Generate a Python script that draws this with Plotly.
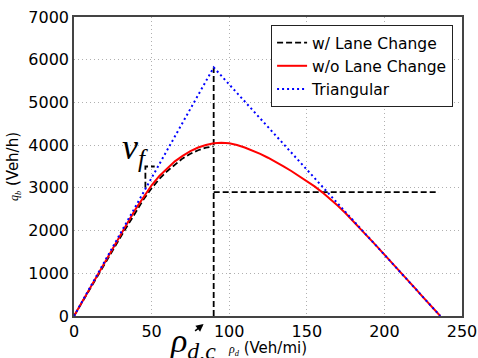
import plotly.graph_objects as go

# ---- data ----
x_lane = [0, 10, 20, 30, 40, 45, 50, 55, 60, 65, 70, 75, 80, 85, 90]
y_lane = [0, 600, 1230, 1850, 2450, 2740, 2990, 3210, 3390, 3550, 3690, 3800, 3880, 3940, 3970]
x_lane_vert = [90, 90]
y_lane_vert = [0, 5820]
x_lane_horiz = [90, 235]
y_lane_horiz = [2900, 2900]
x_vf_mark = [46, 46, 52]
y_vf_mark = [3000, 3500, 3500]

x_nolane = [0, 5, 10, 15, 20, 25, 30, 35, 40, 45, 50, 55, 60, 65, 70, 75, 80, 85,
            90, 95, 100, 105, 110, 115, 120, 125, 130, 135, 140, 145, 150, 155,
            160, 165, 170, 175, 180, 185, 190, 195, 200, 205, 210, 215, 220, 225,
            230, 236]
y_nolane = [0, 320, 640, 960, 1280, 1595, 1910, 2215, 2520, 2800, 3060, 3280,
            3460, 3620, 3750, 3860, 3945, 4005, 4045, 4058, 4045, 4005, 3945,
            3875, 3795, 3705, 3610, 3505, 3395, 3280, 3165, 3035, 2895, 2745,
            2580, 2405, 2220, 2025, 1830, 1635, 1440, 1240, 1040, 840, 640, 435,
            230, 0]

x_tri = [0, 90, 236]
y_tri = [0, 5820, 0]

x_ticks = [0, 50, 100, 150, 200, 250]
y_ticks = [0, 1000, 2000, 3000, 4000, 5000, 6000, 7000]

FONT = "DejaVu Sans"
SERIF = "Liberation Serif"

fig = go.Figure()

xs = x_lane + [None] + x_lane_vert + [None] + x_lane_horiz + [None] + x_vf_mark
ys = y_lane + [None] + y_lane_vert + [None] + y_lane_horiz + [None] + y_vf_mark
fig.add_trace(go.Scatter(x=xs, y=ys, mode="lines", name="w/ Lane Change",
                         connectgaps=False,
                         line=dict(color="black", width=1.8, dash="6px,3px")))
fig.add_trace(go.Scatter(x=x_nolane, y=y_nolane, mode="lines", name="w/o Lane Change",
                         line=dict(color="#ff0000", width=2)))
fig.add_trace(go.Scatter(x=x_tri, y=y_tri, mode="lines", name="Triangular",
                         line=dict(color="#0000ff", width=2, dash="2px,3px")))

# annotations (paper coordinates)
fig.add_annotation(x=0.119, y=0.557, xref="paper", yref="paper",
                   text="<i>v<sub>f</sub></i>", showarrow=False,
                   font=dict(family=SERIF, size=36, color="black"))
fig.add_annotation(x=0.243, y=-0.012, xref="paper", yref="paper",
                   xanchor="left", yanchor="top",
                   text="<i>ρ<sub>d,c</sub></i>", showarrow=False,
                   font=dict(family=SERIF, size=34, color="black"))
fig.add_annotation(x=0.334, y=-0.027, ax=-10, ay=8,
                   xref="paper", yref="paper", text="",
                   showarrow=True, arrowhead=2, arrowsize=1, arrowwidth=1.5,
                   arrowcolor="black")

axis_common = dict(showline=True, mirror=True, linecolor="#444", linewidth=1.5,
                   showgrid=True, gridcolor="#b0b0b0", griddash="1px,3px", gridwidth=1,
                   zeroline=False, ticks="", automargin=False,
                   tickfont=dict(family=FONT, size=16, color="black"))

fig.update_layout(
    width=478, height=358,
    margin=dict(l=74, r=16, t=17, b=42),
    plot_bgcolor="white", paper_bgcolor="white",
    font=dict(family=FONT, size=15, color="black"),
    xaxis=dict(range=[0, 250], tickvals=x_ticks, **axis_common,
               title=dict(text="<span style='font-family:Liberation Serif;font-size:12px'><i>ρ<sub>d</sub></i></span> (Veh/mi)",
                          font=dict(family=FONT, size=15), standoff=6)),
    yaxis=dict(range=[0, 7000], tickvals=y_ticks, **axis_common,
               title=dict(text="<span style='font-family:Liberation Serif;font-size:12px'><i>q<sub>b</sub></i></span> (Veh/h)",
                          font=dict(family=FONT, size=15), standoff=6)),
    legend=dict(x=0.977, y=0.973, xanchor="right", yanchor="top",
                bgcolor="white", bordercolor="#222", borderwidth=1,
                font=dict(family=FONT, size=15.5, color="black"),
                tracegroupgap=0),
    showlegend=True,
)

fig.write_html("out.html")
